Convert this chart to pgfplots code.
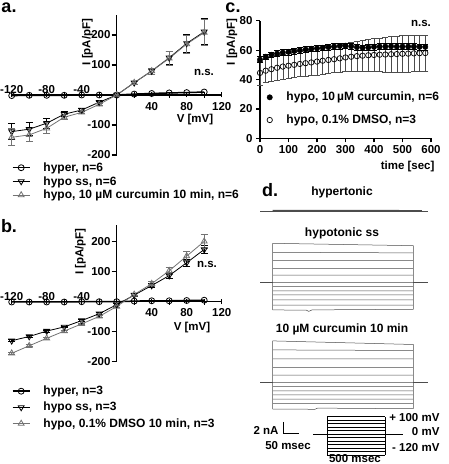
\documentclass[border=0pt]{standalone}
\usepackage{fontspec}
\setmainfont{Liberation Sans}
\usepackage{pgfplots}
\pgfplotsset{compat=1.18}
\definecolor{dg}{gray}{0.45}
\definecolor{tr}{gray}{0.3}
\newcommand{\fs}{\bfseries\fontsize{11.5}{13}\selectfont}
\newcommand{\fl}{\bfseries\fontsize{12}{13}\selectfont}
\tikzset{ylab/.style={anchor=east, inner sep=0pt, xshift=-6pt}}
\pgfplotsset{
  ivaxis/.style={
    scale only axis, axis lines=middle, axis line style={-, line width=1.5pt},
    xmin=-120, xmax=120, ymin=-200,
    xtick={40,80,120}, minor xtick={-100,-60,-20,20,60,100},
    extra x ticks={-120,-80,-40},
    xticklabel style={anchor=north, yshift=-1pt},
    extra x tick style={xticklabel style={anchor=south, yshift=1pt}},
    ytick={-200,-100,100,200}, yticklabels={},
    xtick align=center, ytick align=outside,
    major tick length=5pt, minor tick length=6pt,
    every tick/.style={black, line width=1.2pt},
    /pgf/number format/assume math mode=true,
    tick label style={font=\fs},
    clip=false,
    legend cell align=left,
    legend style={draw=none, fill=none, font=\fl, inner sep=0pt, anchor=north west,
      nodes={inner sep=1pt}, row sep=1.5pt, /tikz/every odd column/.append style={column sep=12pt}},
  },
  hyperst/.style={black, line width=1.5pt, mark=o, mark size=3pt, mark options={line width=0.8pt, fill=white}},
  ssst/.style={black, line width=0.8pt, mark=triangle, mark size=3.4pt, mark options={rotate=180, fill=white, line width=0.8pt},
    error bars/.cd, y dir=both, y explicit, error bar style={line width=0.8pt, black}, error mark options={rotate=90, mark size=3.5pt, line width=0.8pt}},
  curst/.style={dg, line width=0.8pt, mark=triangle, mark size=3.4pt, mark options={fill=none, line width=0.8pt},
    error bars/.cd, y dir=both, y explicit, error bar style={line width=0.8pt, dg}, error mark options={rotate=90, mark size=3.5pt, line width=0.8pt, dg}},
  traceax/.style={scale only axis, hide axis, xmin=-45, xmax=553, ymin=-6, ymax=8, width=168.3pt, height=84pt, clip=false},
  trace/.style={tr, line width=0.5pt, unbounded coords=jump},
}
\begin{document}
\begin{tikzpicture}[font=\fs]
\useasboundingbox (0,0) rectangle (448pt,464pt);

% ---------------- panel a ----------------
\begin{axis}[ivaxis, at={(11.7pt,309pt)}, anchor=south west, width=210pt, height=139.5pt, ymax=265,
  legend style={at={(0,-0.046)}}]
\addplot[hyperst] coordinates {(-120,-2) (-100,-1) (-80,-1) (-60,-1) (-40,0) (-20,0) (0,0) (20,3) (40,5) (60,7) (80,8) (100,10)};
\addlegendentry{hyper, n=6}
\addplot[ssst] coordinates {
(-120,-122) +- (0,27) (-100,-114) +- (0,22) (-80,-94) +- (0,17) (-60,-64) +- (0,8) (-40,-50) +- (0,5) (-20,-24) +- (0,4)
(0,0) +- (0,3) (20,41) +- (0,5) (40,80) +- (0,10) (60,124) +- (0,22) (80,172) +- (0,30) (100,211) +- (0,44)};
\addlegendentry{hypo ss, n=6}
\addplot[curst] coordinates {
(-120,-141) +- (0,28) (-100,-133) +- (0,22) (-80,-111) +- (0,18) (-60,-74) +- (0,8) (-40,-58) +- (0,5) (-20,-31) +- (0,4)
(0,0) +- (0,3) (20,41) +- (0,5) (40,80) +- (0,10) (60,122) +- (0,22) (80,170) +- (0,30) (100,208) +- (0,44)};
\addlegendentry{hypo, 10 µM curcumin 10 min, n=6}
\node[ylab] at (axis cs:0,200) {200};
\node[ylab] at (axis cs:0,100) {100};
\node[ylab] at (axis cs:0,-100) {-100};
\node[ylab] at (axis cs:0,-200) {-200};
\end{axis}

% ---------------- panel b ----------------
\begin{axis}[ivaxis, at={(11.7pt,102.3pt)}, anchor=south west, width=210pt, height=136.5pt, ymax=255,
  legend style={at={(0,-0.17)}, row sep=4pt}]
\addplot[hyperst] coordinates {(-120,-1) (-100,-1) (-80,-1) (-60,-1) (-40,0) (-20,0) (0,0) (20,2) (40,3) (60,3) (80,4) (100,5)};
\addlegendentry{hyper, n=3}
\addplot[ssst] coordinates {
(-120,-130) +- (0,3) (-100,-116) +- (0,3) (-80,-98) +- (0,3) (-60,-84) +- (0,3) (-40,-63) +- (0,3) (-20,-40) +- (0,3)
(0,-10) +- (0,3) (20,22) +- (0,4) (40,54) +- (0,8) (60,87) +- (0,10) (80,130) +- (0,12) (100,174) +- (0,12)};
\addlegendentry{hypo ss, n=3}
\addplot[curst] coordinates {
(-120,-172) +- (0,3) (-100,-147) +- (0,3) (-80,-122) +- (0,3) (-60,-98) +- (0,3) (-40,-74) +- (0,3) (-20,-49) +- (0,3)
(0,-16) +- (0,3) (20,24) +- (0,4) (40,60) +- (0,8) (60,103) +- (0,12) (80,152) +- (0,15) (100,201) +- (0,22)};
\addlegendentry{hypo, 0.1\% DMSO 10 min, n=3}
\node[ylab] at (axis cs:0,200) {200};
\node[ylab] at (axis cs:0,100) {100};
\node[ylab] at (axis cs:0,-100) {-100};
\node[ylab] at (axis cs:0,-200) {-200};
\end{axis}

% ---------------- panel c ----------------
\begin{axis}[scale only axis, at={(260pt,325.7pt)}, anchor=south west, width=171pt, height=117.6pt,
  axis lines=left, axis line style={-, line width=1.5pt},
  xmin=0, xmax=600, ymin=0, ymax=80,
  xtick={0,100,...,600}, ytick={0,20,...,80},
  tick align=outside, major tick length=4pt,
  every tick/.style={black, line width=1.2pt},
  /pgf/number format/assume math mode=true,
  tick label style={font=\fs}, clip=false,
  reverse legend, legend cell align=left,
  legend style={draw=none, fill=none, font=\fl, inner sep=0pt, anchor=north west, at={(0.04,0.402)},
    nodes={inner sep=1pt}, row sep=10.5pt, /tikz/every odd column/.append style={column sep=13pt}}]
\addplot[only marks, black, mark=o, mark size=2.7pt, mark options={fill=white, line width=0.7pt},
  error bars/.cd, y dir=both, y explicit, error bar style={line width=0.5pt, tr}, error mark options={rotate=90, mark size=3pt, tr, line width=0.5pt}]
  table[x=t, y=m, y error=e] {
t m e
0 44.5 8.2
20 46 8.2
40 47 8.3
60 48 8.3
80 48.8 8.4
100 49.4 8.5
120 50 8.6
140 50.6 8.7
160 51.1 8.8
180 51.6 8.9
200 52.2 9
220 52.8 9
240 53.3 9.1
260 53.8 9.1
280 54.4 9.2
300 55 9.3
320 55.5 9.6
340 55.9 10
360 56.2 10.4
380 56.5 10.8
400 56.7 11.2
420 56.9 11.5
440 57.0 11.8
460 57.2 12
480 57.3 12.2
500 57.5 12.3
520 57.6 12.4
540 57.8 12.4
560 57.9 12.4
580 58.0 12.4
};
\addlegendentry{hypo, 0.1\% DMSO, n=3}
\addplot[only marks, black, mark=*, mark size=2.7pt,
  error bars/.cd, y dir=both, y explicit, error bar style={line width=0.5pt}, error mark options={rotate=90, mark size=3pt, line width=0.5pt}]
  table[x=t, y=m, y error=e] {
t m e
0 53.5 2
20 55.5 2
40 56.8 2
60 57.6 2
80 58.3 2
100 58.8 2
120 59.4 2
140 59.9 2
160 60.4 2
180 60.9 2
200 61.2 2
220 61.6 2
240 62.0 2
260 62.4 2
280 62.8 2
300 63.0 2
320 62.6 2
340 62.0 2
360 61.6 2
380 61.8 2
400 62.2 2
420 62.4 2
440 62.4 2
460 62.6 2
480 62.4 2
500 62.4 2
520 62.4 2
540 62.4 2
560 62.2 2
580 62.2 2
};
\addlegendentry{hypo, 10\,µM curcumin, n=6}
\end{axis}

% ---------------- panel d traces ----------------
% hypertonic
\begin{axis}[traceax, at={(260pt,217pt)}, anchor=south west]
\addplot[trace, line width=0.8pt] table {
x y
-45 0
553 0
};
\addplot[trace, line width=0.5pt] table {
x y
0 0.15
530 0.12
nan nan
0 -0.12
530 -0.1
nan nan
0 0.05
530 0.05
};
\end{axis}
% hypotonic ss
\begin{axis}[traceax, at={(260pt,145.7pt)}, anchor=south west]
\addplot[trace, line width=0.8pt] table {
x y
-45 0
0 0
nan nan
500 0
553 0
};
\addplot[trace] table {
x y
0 -4.6
0 6.5
nan nan
500 -4.5
500 6.1
nan nan
0 6.5
500 6.1
nan nan
0 5.0
500 4.9
nan nan
0 3.6
500 3.6
nan nan
0 2.3
500 2.3
nan nan
0 1.2
500 1.2
nan nan
0 0
500 0
nan nan
0 -0.7
500 -0.7
nan nan
0 -1.45
500 -1.45
nan nan
0 -2.1
500 -2.1
nan nan
0 -2.95
500 -2.95
nan nan
0 -3.8
500 -3.8
nan nan
0 -4.6
120 -4.65
128 -4.85
140 -4.6
300 -4.55
500 -4.5
};
\end{axis}
% curcumin
\begin{axis}[traceax, at={(260pt,45.7pt)}, anchor=south west]
\addplot[trace, line width=0.8pt] table {
x y
-45 0
0 0
nan nan
500 0
553 0
};
\addplot[trace] table {
x y
0 -4.45
0 6.9
nan nan
500 -4.4
500 6.3
nan nan
0 6.9
500 6.3
nan nan
0 5.4
500 5.3
nan nan
0 3.9
500 3.9
nan nan
0 2.45
500 2.45
nan nan
0 1.2
500 1.2
nan nan
0 0
500 0
nan nan
0 -0.7
500 -0.7
nan nan
0 -1.45
500 -1.45
nan nan
0 -2.1
500 -2.1
nan nan
0 -2.8
500 -2.8
nan nan
0 -3.5
500 -3.5
nan nan
0 -4.45
150 -4.5
160 -4.3
300 -4.35
500 -4.4
};
\end{axis}
% voltage protocol
\begin{axis}[scale only axis, hide axis, at={(313.3pt,9pt)}, anchor=south west, width=90pt, height=38.3pt,
  xmin=-121, xmax=656, ymin=-120, ymax=100, clip=false]
\addplot[black, line width=0.6pt, unbounded coords=jump] table {
x y
-121 0
0 0
nan nan
500 0
656 0
nan nan
0 -120
0 100
nan nan
500 -120
500 100
nan nan
0 100
500 100
nan nan
0 80
500 80
nan nan
0 60
500 60
nan nan
0 40
500 40
nan nan
0 20
500 20
nan nan
0 0
500 0
nan nan
0 -20
500 -20
nan nan
0 -40
500 -40
nan nan
0 -60
500 -60
nan nan
0 -80
500 -80
nan nan
0 -100
500 -100
nan nan
0 -120
500 -120
};
\end{axis}

% ---------------- text ----------------
\node[font=\bfseries\fontsize{18}{18}\selectfont] at (9pt,456pt) {a.};
\node[font=\bfseries\fontsize{18}{18}\selectfont] at (9pt,238pt) {b.};
\node[font=\bfseries\fontsize{18}{18}\selectfont, inner sep=0pt] at (233pt,456pt) {c.};
\node[font=\bfseries\fontsize{18}{18}\selectfont] at (270pt,274pt) {d.};
\node[rotate=90] at (87.5pt,422pt) {I [pA/pF]};
\node[rotate=90] at (80.5pt,212.5pt) {I [pA/pF]};
\node[rotate=90, inner sep=0pt] at (232pt,422pt) {I [pA/pF]};
\node at (195pt,344pt) {V [mV]};
\node at (192pt,136pt) {V [mV]};
\node at (204pt,392pt) {n.s.};
\node at (207pt,200pt) {n.s.};
\node at (421pt,441pt) {n.s.};
\node[anchor=east] at (438pt,297pt) {time [sec]};
\node[font=\fl] at (342pt,272pt) {hypertonic};
\node[font=\fl] at (342pt,231pt) {hypotonic ss};
\node[font=\fl] at (342pt,135pt) {10 µM curcumin 10 min};
\draw[line width=1pt] (283.3pt,42pt) -- (283.3pt,30pt) -- (299.3pt,30pt);
\node[anchor=east] at (282pt,34pt) {2 nA};
\node at (288pt,18pt) {50 msec};
\node[anchor=east] at (443pt,46pt) {+ 100 mV};
\node[anchor=east] at (443pt,32pt) {0 mV};
\node[anchor=east] at (443pt,16pt) {- 120 mV};
\node[inner sep=0pt] at (355pt,5.5pt) {500 msec};
\end{tikzpicture}
\end{document}
